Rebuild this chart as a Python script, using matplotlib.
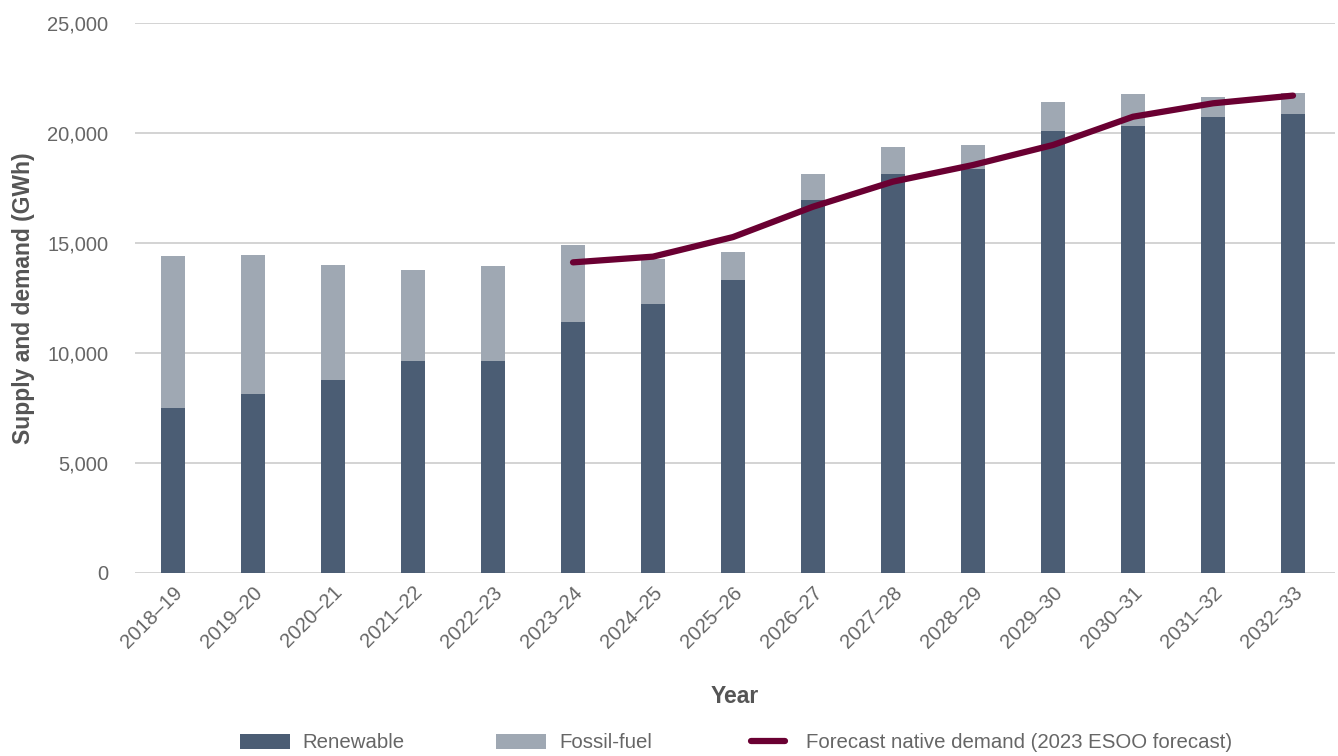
import matplotlib
matplotlib.use("Agg")
import matplotlib.pyplot as plt
from matplotlib.legend_handler import HandlerLine2D
import numpy as np

years = ["2018–19", "2019–20", "2020–21", "2021–22", "2022–23", "2023–24", "2024–25",
         "2025–26", "2026–27", "2027–28", "2028–29", "2029–30", "2030–31", "2031–32", "2032–33"]
renewable = [7500, 8140, 8770, 9640, 9640, 11410, 12230, 13320, 16950, 18140, 18360, 20090, 20320, 20730, 20860]
total_supply = [14410, 14460, 14000, 13770, 13950, 14910, 14250, 14590, 18140, 19360, 19450, 21410, 21770, 21640, 21820]
fossil = [t - r for t, r in zip(total_supply, renewable)]
demand_years = years[5:]
demand = [14120, 14380, 15270, 16650, 17790, 18545, 19455, 20740, 21350, 21700]

c_ren = "#4b5d74"
c_fos = "#9fa8b3"
c_line = "#6a0032"
txt = "#666666"

plt.rcParams['font.family'] = ['Liberation Sans', 'DejaVu Sans']


class ShortLine(HandlerLine2D):
    def get_xdata(self, legend, xdescent, ydescent, width, height, fontsize):
        x0 = -xdescent + 0.16 * width
        x1 = -xdescent + 0.84 * width
        return np.array([x0, x1]), np.array([x0, x1])


fig = plt.figure(figsize=(13.38, 7.56), dpi=100)
ax = fig.add_axes([135/1338, 1 - 573/756, 1200/1338, 550/756])

x = np.arange(len(years))
b1 = ax.bar(x, renewable, width=0.31, color=c_ren, label="Renewable", zorder=2)
b2 = ax.bar(x, fossil, width=0.31, bottom=renewable, color=c_fos, label="Fossil-fuel", zorder=2)
xd = np.array([years.index(y) for y in demand_years])
ln, = ax.plot(xd, demand, color=c_line, lw=4.5, solid_capstyle="round", solid_joinstyle="round",
              label="Forecast native demand (2023 ESOO forecast)", zorder=3)

ax.set_xlim(-0.475, 14.525)
ax.set_ylim(0, 25000)
ax.set_yticks(np.arange(0, 25001, 5000))
ax.set_yticklabels([f"{v:,}" for v in range(0, 25001, 5000)])
ax.yaxis.grid(True, color="#cccccc", lw=1.2, zorder=0)
ax.set_axisbelow(True)
for s in ax.spines.values():
    s.set_visible(False)
ax.tick_params(axis="y", length=0, pad=19, labelsize=14.5, labelcolor=txt)
ax.tick_params(axis="x", length=0, pad=7, labelsize=14.5, labelcolor=txt)
ax.set_xticks(x)
ax.set_xticklabels(years, rotation=45, ha="right", rotation_mode="anchor")

ax.set_ylabel("Supply and demand (GWh)", fontsize=16.5, fontweight="bold", color="#555555", labelpad=9)
ax.set_xlabel("Year", fontsize=16.5, fontweight="bold", color="#555555", labelpad=24)

leg = fig.legend(handles=[b1, b2, ln], loc="center", bbox_to_anchor=(0.55, 1 - 743/756), ncol=3,
                 frameon=False, fontsize=14.7, labelcolor=txt, handlelength=2.45, handleheight=0.75,
                 columnspacing=4.45, handletextpad=0.65, handler_map={ln: ShortLine()})

fig.savefig("out.png", dpi=100)
